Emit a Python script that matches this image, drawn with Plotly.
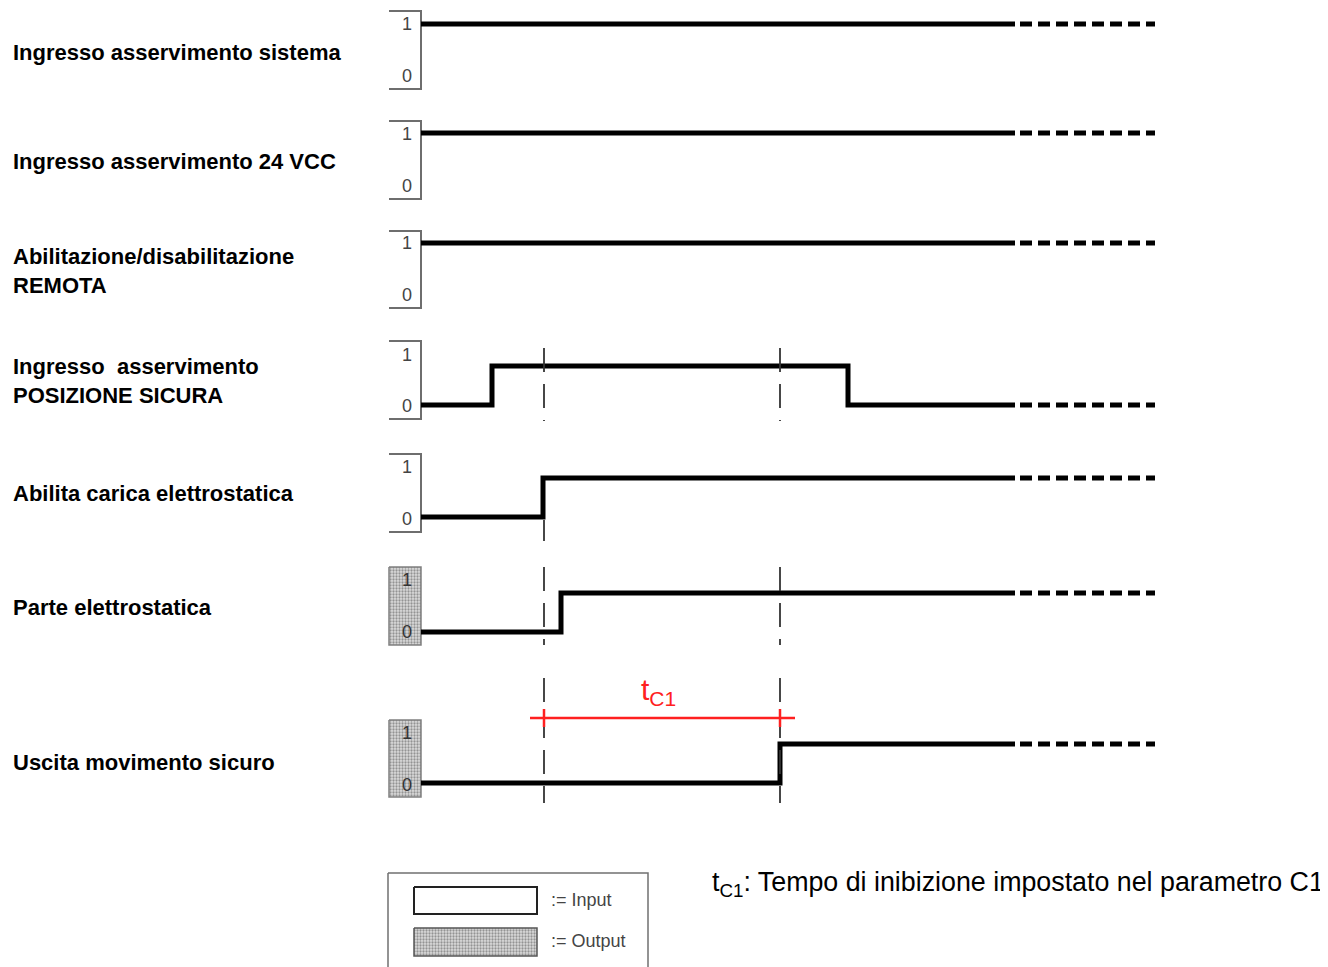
import plotly.graph_objects as go

# ---------------- data ----------------
signal_names = [
    "Ingresso asservimento sistema",
    "Ingresso asservimento 24 VCC",
    "Abilitazione/disabilitazione<br>REMOTA",
    "Ingresso  asservimento<br>POSIZIONE SICURA",
    "Abilita carica elettrostatica",
    "Parte elettrostatica",
    "Uscita movimento sicuro",
]
signal_kind = ["input", "input", "input", "input", "input", "output", "output"]
initial_level = [1, 1, 1, 0, 0, 0, 0]
# transition times (diagram x units) for each signal
transitions = [[], [], [], [492, 848], [543], [561], [780]]
t_start = 421
t_solid_end = 1015
t_dash_end = 1155
marker_times = [544, 780]          # dashed reference lines
tc1_label = "t<sub>C1</sub>"
note_text = "t<sub>C1</sub>: Tempo di inibizione impostato nel parametro C1"
legend_labels = [":= Input", ":= Output"]

# ---------------- layout geometry (pixels) ----------------
row_box = [(11, 89), (121, 199), (231, 308), (341, 419), (454, 532), (567, 645), (720, 797)]
row_high = [24, 133, 243, 366, 478, 593, 744]
row_low = [76, 186, 295, 405, 517, 632, 783]
lab1_y = [24, 134, 243, 355, 467, 580, 733]
lab0_y = [76, 186, 295, 406, 519, 632, 785]
name_y = [52, 161, 271, 381, 493, 607, 762]
box_left = 389
box_right = 421
PAGE_OFF = 8   # browser body margin

fig = go.Figure()
annotations = []

BLACK = "#000000"
GRAY = "#6e6e6e"
FONT = "Liberation Sans, Arial"

def hline(x0, x1, y, color, width, dash="solid"):
    fig.add_trace(go.Scatter(x=[x0, x1], y=[y, y], mode="lines",
                             line=dict(color=color, width=width, dash=dash),
                             hoverinfo="skip", showlegend=False))

pattern = dict(shape=".", fgcolor="#4a4a4a", bgcolor="#dcdcdc", size=3, solidity=0.45)

for i, name in enumerate(signal_names):
    top, bot = row_box[i]
    if signal_kind[i] == "input":
        fig.add_trace(go.Scatter(x=[box_left, box_right, box_right, box_left],
                                 y=[top, top, bot, bot], mode="lines",
                                 line=dict(color=GRAY, width=2),
                                 hoverinfo="skip", showlegend=False))
        lab_color = "#444444"
    else:
        fig.add_trace(go.Scatter(x=[box_left, box_right, box_right, box_left, box_left],
                                 y=[top, top, bot, bot, top], mode="lines",
                                 fill="toself", fillcolor="#d0d0d0", fillpattern=pattern,
                                 line=dict(color="#808080", width=1.5),
                                 hoverinfo="skip", showlegend=False))
        lab_color = "#333333"
    for txt, yy in (("1", lab1_y[i]), ("0", lab0_y[i])):
        annotations.append(dict(x=box_right - 7, y=yy, text=txt, showarrow=False,
                                xanchor="right", yanchor="middle",
                                font=dict(size=18, color=lab_color, family=FONT)))
    # signal waveform
    level = initial_level[i]
    ys = {1: row_high[i], 0: row_low[i]}
    xs_w = [t_start]
    ys_w = [ys[level]]
    for t in transitions[i]:
        xs_w.append(t); ys_w.append(ys[level])
        level = 1 - level
        xs_w.append(t); ys_w.append(ys[level])
    xs_w.append(t_solid_end); ys_w.append(ys[level])
    fig.add_trace(go.Scatter(x=xs_w, y=ys_w, mode="lines",
                             line=dict(color=BLACK, width=5),
                             hoverinfo="skip", showlegend=False))
    hline(t_solid_end + 5, t_dash_end, ys[level], BLACK, 5, dash="12px,6px")
    annotations.append(dict(x=11, y=name_y[i], text="<b>" + name.replace("<br>", "</b><br><b>") + "</b>",
                            showarrow=False, xanchor="left", yanchor="middle", align="left",
                            font=dict(size=22, color=BLACK, family=FONT)))

# dashed vertical reference lines
seg_rows_first = [(348, 421), (520, 541), (567, 645), (678, 803)]
seg_rows_second = [(348, 421), (567, 645), (678, 803)]
for t, segs in zip(marker_times, [seg_rows_first, seg_rows_second]):
    for y0, y1 in segs:
        fig.add_trace(go.Scatter(x=[t, t], y=[y0, y1], mode="lines",
                                 line=dict(color="#333333", width=1.8, dash="24px,12px"),
                                 hoverinfo="skip", showlegend=False))

# tC1 red dimension line
RED = "#ff2020"
hline(marker_times[0] - 14, marker_times[1] + 15, 718, RED, 2.5)
for t in marker_times:
    fig.add_trace(go.Scatter(x=[t, t], y=[709, 727], mode="lines",
                             line=dict(color=RED, width=2.5),
                             hoverinfo="skip", showlegend=False))
annotations.append(dict(x=(marker_times[0] + marker_times[1]) / 2 - 4, y=712, text=tc1_label,
                        showarrow=False, xanchor="center", yanchor="bottom",
                        font=dict(size=30, color=RED, family=FONT)))

# legend box
fig.add_trace(go.Scatter(x=[388, 648, 648, 388, 388], y=[873, 873, 975, 975, 873], mode="lines",
                         line=dict(color="#707070", width=1.5), hoverinfo="skip", showlegend=False))
fig.add_trace(go.Scatter(x=[414, 537, 537, 414, 414], y=[887, 887, 914, 914, 887], mode="lines",
                         line=dict(color="#222222", width=2), hoverinfo="skip", showlegend=False))
fig.add_trace(go.Scatter(x=[414, 537, 537, 414, 414], y=[928, 928, 956, 956, 928], mode="lines",
                         fill="toself", fillcolor="#d0d0d0", fillpattern=pattern,
                         line=dict(color="#555555", width=1.5), hoverinfo="skip", showlegend=False))
annotations.append(dict(x=549, y=900, text=legend_labels[0], showarrow=False, xanchor="left",
                        yanchor="middle", font=dict(size=18, color="#444444", family=FONT)))
annotations.append(dict(x=549, y=941, text=legend_labels[1], showarrow=False, xanchor="left",
                        yanchor="middle", font=dict(size=18, color="#444444", family=FONT)))

# footnote
annotations.append(dict(x=710, y=884, text=note_text, showarrow=False, xanchor="left",
                        yanchor="middle", font=dict(size=26.8, color=BLACK, family=FONT)))

fig.update_layout(
    width=1328, height=967,
    margin=dict(l=0, r=0, t=0, b=0),
    paper_bgcolor="white", plot_bgcolor="white",
    xaxis=dict(range=[PAGE_OFF, 1328 + PAGE_OFF], visible=False, fixedrange=True),
    yaxis=dict(range=[967 + PAGE_OFF, PAGE_OFF], visible=False, fixedrange=True),
    annotations=annotations,
    showlegend=False,
)
fig.write_html("out.html")
